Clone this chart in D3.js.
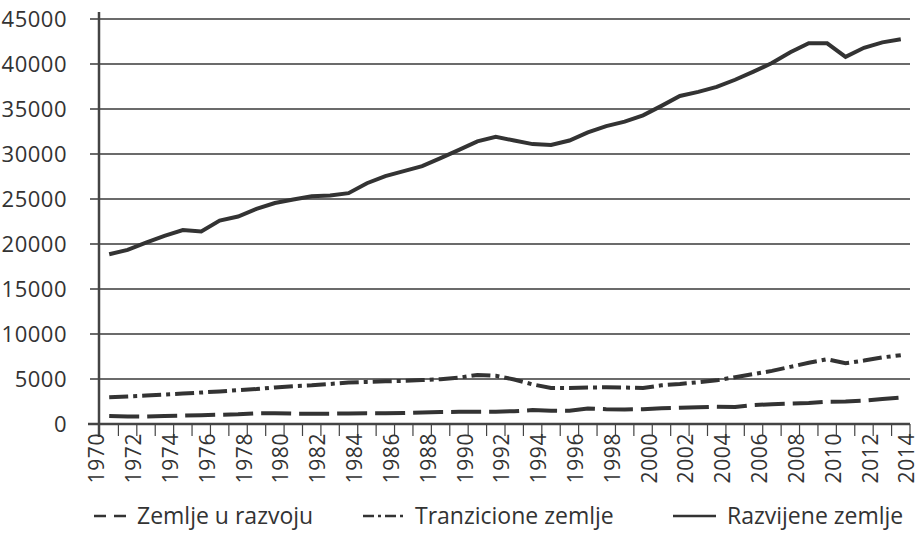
<!DOCTYPE html>
<html>
<head>
<meta charset="utf-8">
<script src="https://cdn.jsdelivr.net/npm/d3@7"></script>
<style>
  body { margin: 0; background: #fff; }
  svg { display: block; font-family: "Open Sans", sans-serif; }
</style>
</head>
<body>
<svg id="chart" width="917" height="545"></svg>
<script>
// years 1970..2013, plotted at the middle of each year slot
const years = d3.range(1970, 2014);
const yTicks = [0, 5000, 10000, 15000, 20000, 25000, 30000, 35000, 40000, 45000];
const xLabels = d3.range(1970, 2015, 2);

const developing = [890, 830, 820, 880, 930, 980, 1030, 1080, 1180, 1200,
  1150, 1150, 1150, 1170, 1200, 1190, 1230, 1280, 1330, 1350,
  1370, 1370, 1420, 1550, 1480, 1470, 1720, 1640, 1620, 1650,
  1750, 1800, 1850, 1920, 1880, 2100, 2200, 2270, 2330, 2480,
  2500, 2600, 2780, 2950];
const transition = [2970, 3060, 3160, 3280, 3380, 3500, 3620, 3760, 3880, 4060,
  4200, 4300, 4450, 4600, 4680, 4740, 4800, 4880, 4980, 5150,
  5450, 5350, 4950, 4400, 4000, 4000, 4050, 4080, 4050, 4000,
  4300, 4450, 4650, 4850, 5200, 5550, 5900, 6350, 6800, 7200,
  6750, 7050, 7400, 7650];
const developed = [18860, 19350, 20150, 20900, 21550, 21400, 22600, 23050, 23900, 24550,
  24950, 25300, 25400, 25650, 26750, 27550, 28100, 28650, 29550, 30450,
  31400, 31900, 31500, 31100, 31000, 31500, 32400, 33100, 33600, 34300,
  35350, 36450, 36900, 37450, 38250, 39150, 40100, 41300, 42300, 42300,
  40800, 41800, 42400, 42750];

const seriesNames = ['Zemlje u razvoju', 'Tranzicione zemlje', 'Razvijene zemlje'];
const dashes = ['30,8', '19,5,4,5', null];
const legendDashes = ['12,8', '11,4,3,4', null];
const ink = '#333';

const svg = d3.select('#chart');

const x = d3.scaleLinear().domain([1970, 2014]).range([100, 910]);
const y = d3.scaleLinear().domain([0, 45000]).range([424, 19]);

// gridlines + y labels
const g = svg.append('g');
g.selectAll('line.grid')
  .data(yTicks.filter(d => d > 0))
  .enter()
  .append('line')
  .attr('x1', 90)
  .attr('x2', x(2014))
  .attr('y1', d => y(d))
  .attr('y2', d => y(d))
  .attr('stroke', '#3a3a3a')
  .attr('stroke-width', 1.4);

g.selectAll('text.ylab')
  .data(yTicks)
  .enter()
  .append('text')
  .attr('x', 67)
  .attr('y', d => y(d))
  .attr('dy', '0.35em')
  .attr('text-anchor', 'end')
  .attr('fill', ink)
  .attr('font-size', 22)
  .attr('letter-spacing', 0.5)
  .text(d => d);

// axes
g.append('line')
  .attr('x1', 99).attr('x2', 99)
  .attr('y1', 12).attr('y2', 437)
  .attr('stroke', '#444').attr('stroke-width', 2.5);

g.append('line')
  .attr('x1', 88).attr('x2', x(2014))
  .attr('y1', y(0)).attr('y2', y(0))
  .attr('stroke', '#444').attr('stroke-width', 2.5);

g.selectAll('line.xtick')
  .data(d3.range(1971, 2015))
  .enter()
  .append('line')
  .attr('x1', d => x(d))
  .attr('x2', d => x(d))
  .attr('y1', y(0))
  .attr('y2', y(0) + 12)
  .attr('stroke', '#444')
  .attr('stroke-width', 1.2);

g.selectAll('text.xlab')
  .data(xLabels)
  .enter()
  .append('text')
  .attr('transform', d => `translate(${x(d) - 3},${y(0) + 9}) rotate(-90)`)
  .attr('dy', '0.35em')
  .attr('text-anchor', 'end')
  .attr('fill', ink)
  .attr('font-size', 21)
  .attr('letter-spacing', 0.6)
  .text(d => d);

// series
const line = d3.line()
  .x((d, i) => x(years[i] + 0.5))
  .y(d => y(d));

[developing, transition, developed].forEach((vals, k) => {
  svg.append('path')
    .attr('d', line(vals))
    .attr('fill', 'none')
    .attr('stroke', ink)
    .attr('stroke-width', 4)
    .attr('stroke-dasharray', dashes[k]);
});

// legend
const legendX = [94, 363, 673];
const legendW = [32, 41, 43];
const legend = svg.append('g');
seriesNames.forEach((name, k) => {
  legend.append('line')
    .attr('x1', legendX[k])
    .attr('x2', legendX[k] + legendW[k])
    .attr('y1', 516).attr('y2', 516)
    .attr('stroke', ink)
    .attr('stroke-width', 2.5)
    .attr('stroke-dasharray', legendDashes[k]);
  legend.append('text')
    .attr('x', legendX[k] + legendW[k] + 11)
    .attr('y', 516)
    .attr('dy', '0.35em')
    .attr('fill', ink)
    .attr('font-size', 23)
    .text(name);
});
</script>
</body>
</html>
